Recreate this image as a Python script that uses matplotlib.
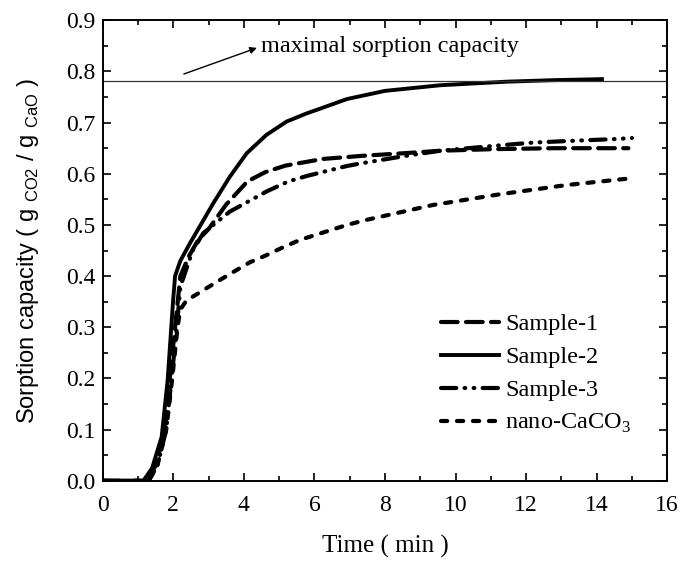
import numpy as np
import matplotlib.pyplot as plt
from matplotlib.ticker import MultipleLocator

plt.rcParams['font.family'] = 'Liberation Serif'
plt.rcParams['mathtext.fontset'] = 'custom'
plt.rcParams['mathtext.rm'] = 'Liberation Serif'
plt.rcParams['mathtext.sf'] = 'Liberation Sans'
plt.rcParams['lines.scale_dashes'] = False

# Data
s2_t = [0, 1.0, 1.15, 1.4, 1.67, 1.84, 1.99, 2.05, 2.2, 2.47, 2.8, 3.13, 3.6, 4.08,
        4.64, 5.21, 5.78, 6.07, 6.92, 8.0, 9.56, 11.45, 12.8, 14.15]
s2_y = [0, 0, 0.0, 0.025, 0.086, 0.197, 0.348, 0.40, 0.43, 0.464, 0.503, 0.542, 0.594, 0.64,
        0.676, 0.702, 0.718, 0.725, 0.746, 0.762, 0.773, 0.780, 0.783, 0.785]

s1_t = [0, 1.0, 1.25, 1.5, 1.75, 1.9, 2.05, 2.2, 2.45, 2.7, 3.0, 3.5, 4.1, 4.6, 5.18,
        6.24, 7.34, 8.5, 9.56, 11.0, 12.8, 14.9]
s1_y = [0, 0, 0, 0.03, 0.1, 0.2, 0.3, 0.40, 0.44, 0.47, 0.492, 0.54, 0.585, 0.603, 0.616,
        0.629, 0.635, 0.640, 0.645, 0.648, 0.650, 0.650]

s3_t = [0, 1.0, 1.3, 1.55, 1.8, 1.95, 2.1, 2.2, 2.4, 2.55, 2.85, 3.6, 4.66, 5.26, 5.8,
        6.91, 7.29, 8.5, 9.56, 11.0, 12.2, 13.5, 14.6, 15.0]
s3_y = [0, 0, 0, 0.03, 0.1, 0.2, 0.3, 0.38, 0.42, 0.45, 0.484, 0.526, 0.566, 0.585, 0.596,
        0.615, 0.62, 0.634, 0.645, 0.654, 0.661, 0.665, 0.668, 0.670]

nano_t = [0, 1.0, 1.3, 1.55, 1.8, 1.97, 2.12, 2.2, 2.37, 3.05, 3.6, 4.17, 4.61, 5.1, 5.6,
          6.92, 7.48, 9.36, 11.26, 13.15, 14.95]
nano_y = [0, 0, 0, 0.03, 0.1, 0.2, 0.3, 0.335, 0.352, 0.381, 0.404, 0.427, 0.44, 0.456,
          0.471, 0.50, 0.51, 0.539, 0.56, 0.578, 0.591]

max_capacity = 0.782
labels = ['Sample-1', 'Sample-2', 'Sample-3', 'nano-CaCO$_3$']

fig = plt.figure(figsize=(6.85, 5.63), dpi=100)
ax = fig.add_axes([0.150, 0.146, 0.824, 0.818])

ax.plot(s1_t, s1_y, color='black', lw=3, linestyle=(0, (12, 6)),
        dash_capstyle='round', label=labels[0])
ax.plot(s2_t, s2_y, color='black', lw=2.8, label=labels[1])
ax.plot(s3_t, s3_y, color='black', lw=3, linestyle=(0, (11, 6, 0.5, 6, 0.5, 6)),
        dash_capstyle='round', label=labels[2])
ax.plot(nano_t, nano_y, color='black', lw=3, linestyle=(0, (4.5, 7)),
        dash_capstyle='round', label=labels[3])

ax.axhline(max_capacity, color='#333333', lw=0.9)
ax.annotate('maximal sorption capacity', xy=(4.37, 0.846), xytext=(4.5, 0.848),
            fontsize=17.5, va='center', ha='left')
ax.annotate('', xy=(4.37, 0.846), xytext=(2.3, 0.795),
            arrowprops=dict(arrowstyle='-|>', color='black', lw=1.0,
                            mutation_scale=10, shrinkA=0, shrinkB=0))

ax.set_xlim(0, 16)
ax.set_ylim(0, 0.9)
ax.xaxis.set_major_locator(MultipleLocator(2))
ax.xaxis.set_minor_locator(MultipleLocator(1))
ax.yaxis.set_major_locator(MultipleLocator(0.1))
ax.yaxis.set_minor_locator(MultipleLocator(0.05))
ax.yaxis.set_major_formatter(plt.FormatStrFormatter('%.1f'))
ax.tick_params(which='both', direction='in', top=True, right=True, width=1.2, labelsize=17)
ax.tick_params(which='major', length=6)
ax.tick_params(axis='x', which='major', pad=10)
ax.tick_params(axis='y', which='major', pad=5)
ax.tick_params(which='minor', length=3.5)
for sp in ax.spines.values():
    sp.set_linewidth(1.4)

ax.set_xlabel('Time ( min )', fontsize=18, labelpad=14)
ax.set_ylabel(r'Sorption capacity ( g $_{\mathsf{CO2}}$ / g $_{\mathsf{CaO}}$ )', fontsize=17,
              family='Liberation Sans', labelpad=18)

ax.legend(loc='upper left', bbox_to_anchor=(0.599, 0.364), frameon=False, fontsize=17.5,
          handlelength=2.4, handletextpad=0.25, labelspacing=0.45,
          borderpad=0, borderaxespad=0)

fig.savefig('out.png', dpi=100)
